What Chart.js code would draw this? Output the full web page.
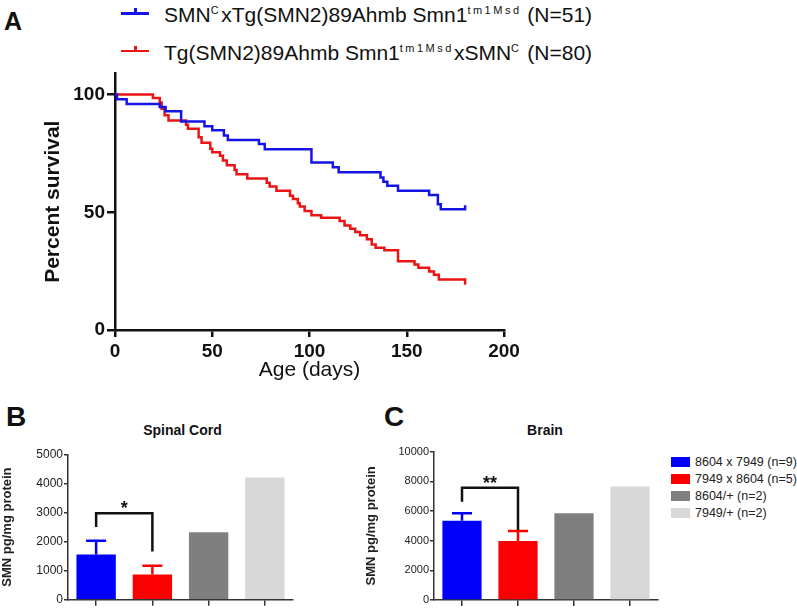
<!DOCTYPE html>
<html>
<head>
<meta charset="utf-8">
<script src="https://cdn.jsdelivr.net/npm/chart.js@4.4.0/dist/chart.umd.min.js"></script>
<style>
body { margin: 0; width: 797px; height: 608px; background: #fff; position: relative; overflow: hidden;
       font-family: "Liberation Sans", Arial, sans-serif; color: #111; }
canvas { position: absolute; }
.abs { position: absolute; white-space: nowrap; }
.letter { font-weight: bold; line-height: 1; }
.leg { font-size: 21px; line-height: 21px; }
.leg sup { font-size: 11px; letter-spacing: 2.5px; vertical-align: baseline; position: relative; top: -8px; }
.sym { position: absolute; height: 2.5px; width: 28px; }
.sym i { position: absolute; left: 13px; top: -4px; width: 2.5px; height: 5px; }
.ptitle { font-weight: bold; font-size: 14px; line-height: 14px; text-align: center; }
.crow { position: absolute; left: 671px; height: 17px; display: flex; align-items: center; font-size: 12.5px;
        white-space: nowrap; color: #222; }
.crow span { display: inline-block; width: 19px; height: 10px; margin-right: 5px; flex: none; }
</style>
</head>
<body>

<div class="abs letter" style="left:4px; top:9px; font-size:25px;">A</div>
<div class="abs letter" style="left:6px; top:403px; font-size:28px;">B</div>
<div class="abs letter" style="left:384px; top:403px; font-size:28px;">C</div>

<div class="sym" style="left:121px; top:12px; background:#1414e6;"><i style="background:#1414e6;"></i></div>
<div class="abs leg" style="left:164px; top:4px;">SMN<sup>C</sup>xTg(SMN2)89Ahmb Smn1<sup>tm1Msd</sup> (N=51)</div>
<div class="sym" style="left:121px; top:49.5px; background:#ea1414;"><i style="background:#ea1414;"></i></div>
<div class="abs leg" style="left:164px; top:42px;">Tg(SMN2)89Ahmb Smn1<sup>tm1Msd</sup>xSMN<sup>C</sup> (N=80)</div>

<div class="abs ptitle" style="left:102px; top:423px; width:161px;">Spinal Cord</div>
<div class="abs ptitle" style="left:495px; top:423px; width:100px;">Brain</div>

<canvas id="survival" width="500" height="330" style="left:30px; top:60px;"></canvas>
<canvas id="spinal" width="300" height="168" style="left:0px; top:440px;"></canvas>
<canvas id="brain" width="301" height="168" style="left:364px; top:440px;"></canvas>

<div id="barLegend"></div>

<script>
// survival curves (Kaplan-Meier steps: day, percent surviving)
var blueDays = [0, 1, 6, 23, 26, 34, 46, 50, 56, 58, 74, 77, 101, 112, 115, 136.5, 138, 140, 145.5, 161.5, 166, 167.5, 180];
var bluePct  = [100, 98, 96, 94.7, 92.9, 88.6, 86.6, 84.8, 82.6, 80.7, 79, 76.8, 71.2, 69.1, 67, 64.8, 63, 61.3, 59.1, 57.3, 53.4, 51.3, 53];
var redDays = [0, 19.5, 23, 24, 25.5, 27.5, 36.5, 37.5, 43, 44.5, 49, 50, 54, 55.5, 57.5, 61.5, 62.5, 68, 78, 79.5,
               83, 90, 91.5, 94, 95, 97.5, 101, 106, 115.5, 118, 121, 123.5, 126, 129.5, 132, 134, 138.5, 145.5, 154, 156,
               161.5, 164, 166.5, 180];
var redPct  = [100, 98.6, 96.6, 94, 91.2, 89, 87.2, 85.5, 81.9, 79.5, 77, 75.5, 74, 72, 70, 68, 66.2, 64.4, 62.5, 61,
               59.1, 57, 55.6, 53.8, 52.5, 50.6, 48.7, 47.7, 46.3, 44.4, 43, 41.6, 40.2, 38.5, 36.3, 34.9, 33.9, 29.2, 27.8, 26.4,
               24.9, 23.5, 21.4, 19.2];
var survivalNames = ['SMNCxTg(SMN2)89Ahmb Smn1tm1Msd (N=51)', 'Tg(SMN2)89Ahmb Smn1tm1MsdxSMNC (N=80)'];
var ageTicks = [0, 50, 100, 150, 200];
var pctTicks = [0, 50, 100];

// SMN protein (mean, SEM)
var groups = ['8604 x 7949 (n=9)', '7949 x 8604 (n=5)', '8604/+ (n=2)', '7949/+ (n=2)'];
var groupColors = ['#0000fa', '#fa0000', '#7f7f7f', '#d8d8d8'];
var spinalMean = [1560, 870, 2320, 4200];
var spinalSem  = [470, 300, null, null];
var brainMean  = [5350, 3980, 5850, 7650];
var brainSem   = [500, 680, null, null];
// significance brackets: [from bar, to bar, top, left end, right end]
var spinalSig = [0, 1, 2970, 2500, 1660];
var brainSig  = [0, 1, 7570, 6630, 4720];
var spinalStars = '*';
var brainStars = '**';

var FONT = '"Liberation Sans", Arial, sans-serif';

function pts(xs, ys) {
  return xs.map(function (x, i) { return { x: x, y: ys[i] }; });
}

new Chart(document.getElementById('survival'), {
  type: 'line',
  data: {
    datasets: [
      { label: survivalNames[0], data: pts(blueDays, bluePct), borderColor: '#1414e6', borderWidth: 2.5,
        stepped: 'before', pointRadius: 0, fill: false },
      { label: survivalNames[1], data: pts(redDays, redPct), borderColor: '#ea1414', borderWidth: 2.5,
        stepped: 'before', pointRadius: 0, fill: false }
    ]
  },
  options: {
    responsive: false,
    animation: false,
    layout: { padding: { top: 12.6, right: 26, left: 0, bottom: 0 } },
    plugins: { legend: { display: false }, tooltip: { enabled: false } },
    scales: {
      x: {
        type: 'linear', min: 0, max: 200,
        afterBuildTicks: function (s) { s.ticks = ageTicks.map(function (v) { return { value: v }; }); },
        afterFit: function (s) { s.height = 60; },
        grid: { display: true, drawOnChartArea: false, drawTicks: true, tickLength: 7, color: '#111', lineWidth: 2.5 },
        border: { display: true, color: '#111', width: 2.5 },
        ticks: { color: '#111', padding: 3, font: { family: FONT, size: 19, weight: 'bold' } },
        title: { display: true, text: 'Age (days)', color: '#111', font: { family: FONT, size: 21 },
                 padding: { top: 0, bottom: 7 } }
      },
      y: {
        min: 0, max: 109,
        afterBuildTicks: function (s) { s.ticks = pctTicks.map(function (v) { return { value: v }; }); },
        afterFit: function (s) { s.width = 85; },
        grid: { display: true, drawOnChartArea: false, drawTicks: true, tickLength: 8, color: '#111', lineWidth: 2.5 },
        border: { display: true, color: '#111', width: 2.5 },
        ticks: { color: '#111', padding: 2, font: { family: FONT, size: 19, weight: 'bold' } },
        title: { display: true, text: 'Percent survival', color: '#111', font: { family: FONT, size: 21, weight: 'bold' },
                 padding: { top: 11, bottom: 0 } }
      }
    }
  }
});

// error bars (upper only) and the significance bracket
var extras = {
  id: 'extras',
  afterDatasetsDraw: function (chart, args, o) {
    var ctx = chart.ctx;
    var meta = chart.getDatasetMeta(0);
    var y = chart.scales.y;
    ctx.save();
    ctx.lineWidth = 2.5;
    o.sem.forEach(function (e, i) {
      if (e == null) return;
      var bar = meta.data[i];
      var top = y.getPixelForValue(o.mean[i] + e);
      ctx.strokeStyle = groupColors[i];
      ctx.beginPath();
      ctx.moveTo(bar.x, bar.y);
      ctx.lineTo(bar.x, top);
      ctx.moveTo(bar.x - 10, top);
      ctx.lineTo(bar.x + 10, top);
      ctx.stroke();
    });
    var s = o.sig;
    var x1 = meta.data[s[0]].x, x2 = meta.data[s[1]].x;
    var yt = y.getPixelForValue(s[2]);
    ctx.strokeStyle = '#111';
    ctx.beginPath();
    ctx.moveTo(x1, y.getPixelForValue(s[3]));
    ctx.lineTo(x1, yt);
    ctx.lineTo(x2, yt);
    ctx.lineTo(x2, y.getPixelForValue(s[4]));
    ctx.stroke();
    ctx.fillStyle = '#111';
    ctx.font = 'bold 18px ' + FONT;
    ctx.textAlign = 'center';
    ctx.textBaseline = 'alphabetic';
    ctx.fillText(o.stars, (x1 + x2) / 2, yt + 1);
    ctx.restore();
  }
};

function barChart(id, mean, sem, sig, stars, yMax, yStep, axisW, top, bottomH, tickSize) {
  return new Chart(document.getElementById(id), {
    type: 'bar',
    data: {
      labels: groups,
      datasets: [{ data: mean, backgroundColor: groupColors, borderWidth: 0,
                   categoryPercentage: 1, barPercentage: 0.7 }]
    },
    options: {
      responsive: false,
      animation: false,
      layout: { padding: { top: top, right: 7, left: 0, bottom: 0 } },
      plugins: {
        legend: { display: false }, tooltip: { enabled: false },
        extras: { mean: mean, sem: sem, sig: sig, stars: stars }
      },
      scales: {
        x: {
          afterFit: function (s) { s.height = bottomH; },
          grid: { display: true, offset: false, drawOnChartArea: false, drawTicks: true, tickLength: 6,
                  color: '#333', lineWidth: 1.5 },
          border: { display: true, color: '#333', width: 1.5 },
          ticks: { display: false }
        },
        y: {
          min: 0, max: yMax,
          ticks: { stepSize: yStep, color: '#222', padding: 1, font: { family: FONT, size: tickSize },
                   callback: function (v) { return String(v); } },
          afterFit: function (s) { s.width = axisW; },
          grid: { display: true, drawOnChartArea: false, drawTicks: true, tickLength: 4, color: '#333', lineWidth: 1.5 },
          border: { display: true, color: '#333', width: 1.5 },
          title: { display: true, text: 'SMN pg/mg protein', color: '#222',
                   font: { family: FONT, size: 13, weight: 'bold' }, padding: { top: 0, bottom: 0 } }
        }
      }
    },
    plugins: [extras]
  });
}

barChart('spinal', spinalMean, spinalSem, spinalSig, spinalStars, 5000, 1000, 68, 14.3, 6.3, 12);
barChart('brain', brainMean, brainSem, brainSig, brainStars, 10000, 2000, 70, 11.7, 8, 11);

// legend for the bar panels
var legendTops = [453.5, 470.5, 487.5, 504.5];
var html = '';
groups.forEach(function (g, i) {
  html += '<div class="crow" style="top:' + legendTops[i] + 'px;"><span style="background:' + groupColors[i] +
          ';"></span>' + g + '</div>';
});
document.getElementById('barLegend').innerHTML = html;
</script>
</body>
</html>
